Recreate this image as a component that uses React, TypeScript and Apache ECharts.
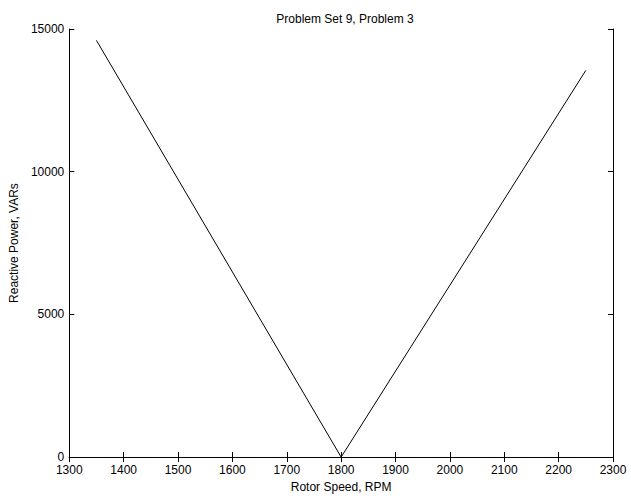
import React, { useEffect, useRef } from "react";
import * as echarts from "echarts";

const rotorSpeed = [1350, 1800, 2250];
const reactivePower = [14600, 0, 13550];
const xTicks = [1300, 2300];
const yTicks = [0, 15000];

const font = "'Liberation Sans', Arial, Helvetica, sans-serif";

export default function App() {
  const ref = useRef<HTMLDivElement>(null);
  useEffect(() => {
    if (!ref.current) return;
    const chart = echarts.init(ref.current, null, { renderer: "svg" });
    const data = rotorSpeed.map((x, i) => [x, reactivePower[i]]);
    const axisLine = { show: true, lineStyle: { color: "#000", width: 1 } };
    const axisTick = { show: true, inside: true, length: 5, lineStyle: { color: "#000" } };
    const fmt = (v: number) => String(v);
    chart.setOption({
      animation: false,
      backgroundColor: "#fff",
      title: {
        text: "Problem Set 9, Problem 3",
        left: 340,
        textAlign: "center",
        top: 8,
        textStyle: { fontFamily: font, fontSize: 12, fontWeight: "normal", color: "#000" },
      },
      grid: { left: 67, right: 18, top: 29, bottom: 39, containLabel: false },
      xAxis: [
        {
          type: "value",
          min: xTicks[0],
          max: xTicks[1],
          interval: 100,
          name: "Rotor Speed, RPM",
          nameLocation: "middle",
          nameGap: 23,
          nameTextStyle: { fontFamily: font, fontSize: 12, color: "#000" },
          axisLine,
          axisTick,
          splitLine: { show: false },
          axisLabel: { fontFamily: font, fontSize: 12, color: "#000", margin: 7, formatter: fmt },
        },
        {
          type: "value",
          position: "top",
          min: xTicks[0],
          max: xTicks[1],
          interval: 100,
          axisLine,
          axisTick,
          splitLine: { show: false },
          axisLabel: { show: false },
        },
      ],
      yAxis: [
        {
          type: "value",
          min: yTicks[0],
          max: yTicks[1],
          interval: 5000,
          name: "Reactive Power, VARs",
          nameLocation: "middle",
          nameGap: 43,
          nameTextStyle: { fontFamily: font, fontSize: 12, color: "#000" },
          axisLine,
          axisTick,
          splitLine: { show: false },
          axisLabel: { fontFamily: font, fontSize: 12, color: "#000", margin: 5, formatter: fmt },
        },
        {
          type: "value",
          position: "right",
          min: yTicks[0],
          max: yTicks[1],
          interval: 5000,
          axisLine,
          axisTick,
          splitLine: { show: false },
          axisLabel: { show: false },
        },
      ],
      series: [
        {
          type: "line",
          data,
          showSymbol: false,
          symbol: "none",
          lineStyle: { color: "#000", width: 1 },
        },
      ],
    });
    return () => chart.dispose();
  }, []);
  return <div ref={ref} style={{ width: 631, height: 498, position: "absolute", left: 0, top: 0 }} />;
}
